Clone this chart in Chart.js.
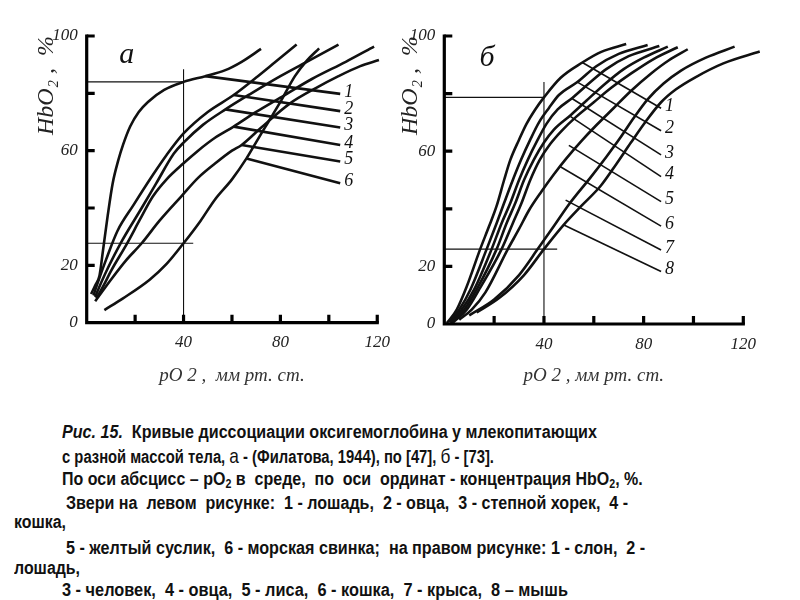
<!DOCTYPE html>
<html lang="ru">
<head>
<meta charset="utf-8">
<script src="https://cdn.jsdelivr.net/npm/chart.js@4.4.1/dist/chart.umd.min.js"></script>
<style>
  html, body { margin: 0; padding: 0; background: #fff; }
  body { width: 800px; height: 600px; position: relative; overflow: hidden; }
  .panel { position: absolute; top: 0; height: 400px; }
  #wrapA { left: 0; width: 400px; }
  #wrapB { left: 380px; width: 420px; }
  .cap {
    position: absolute; white-space: pre; transform-origin: 0 50%;
    font-family: "Liberation Sans Narrow", "Liberation Sans", Arial, sans-serif;
    font-weight: bold; font-size: 18px; line-height: 20px; color: #111;
  }
  .cap .plain { font-weight: normal; font-size: 21px; }
  .cap sub { font-size: 12px; vertical-align: -3px; line-height: 0; }
</style>
</head>
<body>
<div class="panel" id="wrapA"><canvas id="chartA"></canvas></div>
<div class="panel" id="wrapB"><canvas id="chartB"></canvas></div>

<div class="cap" data-w="535" style="left:62px;top:422px"><i>Рис. 15.</i>  Кривые диссоциации оксигемоглобина у млекопитающих</div>
<div class="cap" data-w="432" style="left:62px;top:446px">с разной массой тела, <span class="plain">а</span> - (Филатова, 1944), по [47], <span class="plain">б</span> - [73].</div>
<div class="cap" data-w="581" style="left:62px;top:469px">По оси абсцисс – pO<sub>2</sub> в  среде,  по  оси  ординат - концентрация HbO<sub>2</sub>, %.</div>
<div class="cap" data-w="562" style="left:66px;top:493px">Звери на  левом  рисунке:  1 - лошадь,  2 - овца,  3 - степной хорек,  4 -</div>
<div class="cap" style="left:14px;top:512px">кошка,</div>
<div class="cap" data-w="579" style="left:66px;top:538px">5 - желтый суслик,  6 - морская свинка;  на правом рисунке: 1 - слон,  2 -</div>
<div class="cap" style="left:14px;top:558px">лошадь,</div>
<div class="cap" data-w="506" style="left:62px;top:580px">3 - человек,  4 - овца,  5 - лиса,  6 - кошка,  7 - крыса,  8 – мышь</div>

<script>
// ── DATA: panel "а" (Филатова, 1944) — [pO2, HbO2 %] ──
const aHorse     = [[1.8,10],[3.5,13],[5.3,16.5],[6.7,25],[8.7,37.5],[10.7,48.5],[13,56.5],[15,62],[18,68.5],[21.5,73.5],[25.3,77],[32,81.2],[40,84],[49,86],[57,88],[64,91],[72,95.5]];
const aSheep     = [[2.8,9.5],[5,15],[8,22],[12.7,32],[19.3,41],[27.3,51.5],[33,58.5],[40,66],[50,73.5],[60.7,79.4],[70,85.5],[78,91],[86.7,97]];
const aFerret    = [[3.5,9],[6,14],[9,19.5],[14,27.7],[22.7,40],[28.7,48.6],[36,59],[40,62.8],[48,69],[57.3,74.4],[68,80],[80,86],[92,91.5],[104,97]];
const aCat       = [[4,8.5],[7,13],[10,18],[16.7,27.7],[22,36],[27.3,44],[33,50],[40,55.6],[46,60],[53,64.5],[60.7,68.4],[70,73.5],[80,78.5],[93,85],[107,91],[118.7,96.3]];
const aSuslik    = [[3.5,7.5],[10,15],[16,21.5],[22.7,27.7],[30,35.5],[39,44],[46,50.5],[53,55.5],[60,60],[64,62],[72,68],[84,76.5],[95,82],[104,86],[113,89.5],[120.7,91.6]];
const aGuineaPig = [[7.3,4.4],[15,8.5],[26,15],[33,20.5],[40,27.7],[47,35.5],[53,43],[60,50],[66,57.3],[70,63],[75,70],[80,77],[86,86],[91,91.5],[96,95.7]];
// leader lines to the numbers: [x0, y0, x1, y1]
const aLeaders = [[49,86,104.7,79.8],[60.7,79.4,104.7,73.8],[57.3,74.4,104.7,68.1],[60.7,68.4,104.7,62],[64,62,104.7,56.2],[66,57.3,104.7,48.6]];
// thin guide lines: [x0, y0, x1, y1]
const aGuides = [[0,84,40,84],[40,0,40,88.4],[0,27.7,44,27.7]];

// ── DATA: panel "б" [73] ──
const bElephant = [[1,0.3],[5,5],[9,13],[14.4,26],[18,34],[21,41],[24,50],[26.5,57],[30,64],[33,69.5],[36.5,74.5],[40,78.7],[46.7,85.5],[55.4,90.8],[63,94.5],[73,97.2]];
const bHorse    = [[2,0.5],[6,5],[10.5,12],[17,26],[21,35],[24,42],[27.5,50],[30.8,57],[34.5,64],[38,70],[42,75],[46,79.5],[53.4,84],[61,89.5],[70,93.8],[81.6,96.9]];
const bHuman    = [[2.5,0.5],[7,5],[12,12],[19,26],[23,35],[26.5,42],[30,50],[33.5,57],[37.5,64],[41,69.5],[45.5,74.5],[51.4,78.5],[58,83.5],[65,88.5],[74,93],[86.3,96.5]];
const bSheep    = [[3,0.5],[8,5],[13,12],[21,26],[25,35],[28.5,42],[32,50],[35.9,57],[40,63],[44,67.5],[50.7,72.5],[57,77.5],[64,83],[72,88.5],[80,92.5],[89.7,96.3]];
const bFox      = [[3.5,0.5],[9,5],[14,12],[23,26],[27.5,35],[31,42],[34.5,50],[38.3,57],[42.5,62.5],[47,67],[53,72],[60,77],[67,82],[75,87],[84,92],[93.7,96.1]];
const bCat      = [[6,1.5],[11,5],[16.5,11],[25.5,26],[30,33],[34,39.5],[39,46],[44,52],[49,57.5],[55,63.5],[61,69],[68,75],[75,81],[83,87],[90,91.5],[97.7,95.4]];
const bRat      = [[10,3],[20,8.5],[30,17],[37.5,26],[44,34],[50,41.5],[58.8,51],[65,58],[70.9,65],[76,71.5],[81.6,78],[88,83.5],[95,88],[105,92.5],[116.5,96.3]];
const bMouse    = [[13,4],[22,9],[32,17],[40,26],[48,34.5],[55,41],[62.8,48],[69,55.5],[74.9,63],[81,70.5],[87,77],[93,81.5],[100.4,85.5],[112,90.5],[126.6,94.6]];
const bLeaders = [[55.4,90.8,87,74.9],[53.4,84,87,67.1],[51.4,78.2,87,58.7],[50.7,72,87,51.2],[50,62,87,42.5],[46.6,54.6,87,34],[48.7,43,87,25.7],[48,34.4,87,18.2]];
const bGuides = [[0,78.7,40,78.7],[40,0,40,84],[0,26,45.3,26]];

// ── AXES ──
const xTicks = [0, 20, 40, 60, 80, 100, 120];
const yTicks = [0, 20, 40, 60, 80, 100];
const xTickLabels = [40, 80, 120];
const yTickLabels = [0, 20, 60, 100];
const xTitle = ['pO 2 ,  мм рт. ст.', 'pO 2 , мм рт. ст.'];
const yTitle = 'HbO₂ ,  %';

const SERIF = '"Liberation Serif", "Times New Roman", serif';
const INK = '#111';

const pts = arr => arr.map(([x, y]) => ({ x, y }));

function curveSet(arr) {
  return { data: pts(arr), borderColor: INK, borderWidth: 2.6, pointRadius: 0,
           cubicInterpolationMode: 'monotone', clip: false };
}
function segSet(s, width) {
  return { data: [{ x: s[0], y: s[1] }, { x: s[2], y: s[3] }], borderColor: INK,
           borderWidth: width, pointRadius: 0, tension: 0, clip: false };
}

// axes, inward ticks, numbers and panel letter
const sketch = {
  id: 'sketch',
  afterDatasetsDraw(chart, args, o) {
    const { ctx, scales: { x, y } } = chart;
    const x0 = x.getPixelForValue(0), y0 = y.getPixelForValue(0);
    ctx.save();
    ctx.strokeStyle = '#000';
    ctx.lineWidth = 3.2;
    ctx.lineCap = 'square';
    ctx.beginPath();
    ctx.moveTo(x0, y.getPixelForValue(100));
    ctx.lineTo(x0, y0);
    ctx.lineTo(x.getPixelForValue(120), y0);
    ctx.stroke();
    ctx.lineCap = 'butt';
    ctx.beginPath();
    yTicks.slice(1).forEach(v => {
      const py = y.getPixelForValue(v);
      ctx.moveTo(x0, py); ctx.lineTo(x0 + 8, py);
    });
    xTicks.slice(1).forEach(v => {
      const px = x.getPixelForValue(v);
      ctx.moveTo(px, y0); ctx.lineTo(px, y0 - 8);
    });
    ctx.stroke();

    ctx.fillStyle = INK;
    ctx.textBaseline = 'middle';
    ctx.textAlign = 'left';
    ctx.font = 'italic 18px ' + SERIF;
    o.leaders.forEach((l, i) => {
      ctx.fillText(String(i + 1), x.getPixelForValue(l[2]) + 4, y.getPixelForValue(l[3]) - 2);
    });
    ctx.textAlign = 'center';
    ctx.font = 'italic 30px ' + SERIF;
    ctx.fillText(o.letter, x.getPixelForValue(o.letterAt[0]), y.getPixelForValue(o.letterAt[1]));
    ctx.restore();
  }
};

function makeChart(id, curves, leaders, guides, cfg) {
  const datasets = [
    ...curves.map(curveSet),
    ...leaders.map(l => segSet(l, cfg.leaderWidth)),
    ...guides.map(g => segSet(g, 1.1))
  ];
  return new Chart(document.getElementById(id), {
    type: 'line',
    data: { datasets },
    plugins: [sketch],
    options: {
      responsive: true,
      maintainAspectRatio: false,
      animation: false,
      events: [],
      layout: { padding: { left: 0, top: 36, right: cfg.padRight, bottom: 0 } },
      plugins: {
        legend: { display: false },
        tooltip: { enabled: false },
        sketch: { leaders, letter: cfg.letter, letterAt: cfg.letterAt }
      },
      scales: {
        x: {
          type: 'linear', min: 0, max: 120,
          grid: { display: false, drawTicks: false },
          border: { display: false },
          ticks: {
            stepSize: 20, autoSkip: false, maxRotation: 0, padding: 10, color: '#222',
            font: { family: SERIF, style: 'italic', size: 17 },
            callback: v => xTickLabels.includes(v) ? String(v) : ''
          },
          title: {
            display: true, text: cfg.xTitle, color: '#333',
            font: { family: SERIF, style: 'italic', size: 19 },
            padding: { top: 0, bottom: 13 }
          },
          afterFit: s => { s.height = cfg.xAxisH; }
        },
        y: {
          type: 'linear', min: 0, max: 100,
          grid: { display: false, drawTicks: false },
          border: { display: false },
          ticks: {
            stepSize: 20, autoSkip: false, padding: 9, color: '#222',
            font: { family: SERIF, style: 'italic', size: 17 },
            callback: v => yTickLabels.includes(v) ? String(v) : ''
          },
          title: {
            display: true, text: yTitle, align: 'end', color: '#222',
            font: { family: SERIF, style: 'italic', size: 24 },
            padding: { top: cfg.yTitlePad, bottom: 0 }
          },
          afterFit: s => { s.width = cfg.yAxisW; }
        }
      }
    }
  });
}

makeChart('chartA',
  [aHorse, aSheep, aFerret, aCat, aSuslik, aGuineaPig], aLeaders, aGuides,
  { letter: 'а', letterAt: [16.5, 93.4], xTitle: xTitle[0], leaderWidth: 2.6,
    yAxisW: 86.7, xAxisH: 77.3, padRight: 13.3, yTitlePad: 32 });

makeChart('chartB',
  [bElephant, bHorse, bHuman, bSheep, bFox, bCat, bRat, bMouse], bLeaders, bGuides,
  { letter: 'б', letterAt: [17.2, 92.4], xTitle: xTitle[1], leaderWidth: 1.6,
    yAxisW: 64.3, xAxisH: 76, padRight: 56.7, yTitlePad: 16 });

// fit caption lines to the widths of the original typesetting;
// short wrapped lines take the average squeeze of the long ones
const caps = [...document.querySelectorAll('.cap')];
const squeeze = [];
caps.forEach(el => {
  const target = Number(el.dataset.w);
  const w = el.getBoundingClientRect().width;
  if (target && w > 0) {
    const k = target / w;
    squeeze.push(k);
    el.style.transform = `scaleX(${k.toFixed(3)})`;
  }
});
const kAvg = squeeze.reduce((a, b) => a + b, 0) / squeeze.length;
caps.filter(el => !el.dataset.w).forEach(el => {
  el.style.transform = `scaleX(${kAvg.toFixed(3)})`;
});
</script>
</body>
</html>
